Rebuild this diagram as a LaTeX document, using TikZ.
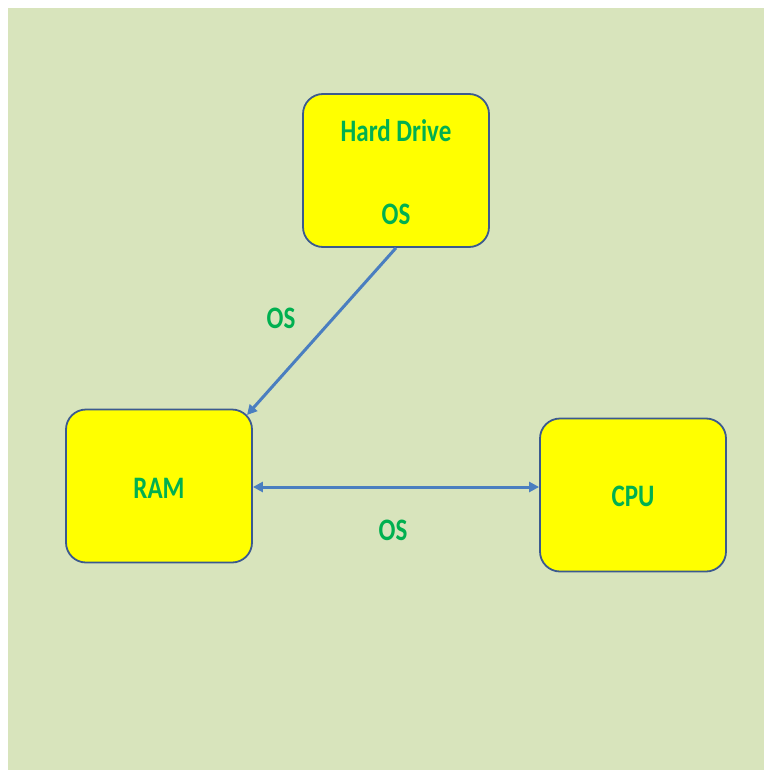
\documentclass[tikz,border=0pt]{standalone}
\usepackage{fontspec}
\setmainfont{Carlito}
\usetikzlibrary{arrows.meta}
\definecolor{bg}{HTML}{D8E4BC}
\definecolor{boxfill}{HTML}{FFFF00}
\definecolor{boxline}{HTML}{3B5A8F}
\definecolor{arrowc}{HTML}{4A7EC0}
\definecolor{txt}{HTML}{00B050}
\tikzset{
  unit/.style={draw=boxline, fill=boxfill, line width=1.8pt, rounded corners=20pt,
    minimum width=186pt, minimum height=153pt, inner sep=0pt},
  lbl/.style={text=txt, font=\fontsize{25}{30}\selectfont\bfseries, inner sep=0pt},
  conn/.style={draw=arrowc, line width=3pt, -{Triangle[length=10pt,width=10pt]}},
}
\begin{document}
\begin{tikzpicture}[x=1pt,y=-1pt]
\useasboundingbox (0,0) rectangle (764,770);
\fill[white] (0,0) rectangle (764,770);
\fill[bg] (8,8) rectangle (764,770);
\node[unit] (hd) at (396,170.5) {};
\node[unit] (ram) at (159,486) {};
\node[unit] (cpu) at (633,495) {};
\node[lbl] (hdt) at (396,131) {\scalebox{1}[1.25]{Hard Drive}};
\node[lbl] (hdos) at (396,214) {\scalebox{1}[1.25]{OS}};
\node[lbl] (ramt) at (159,488) {\scalebox{1}[1.25]{RAM}};
\node[lbl] (cput) at (633,496) {\scalebox{1}[1.25]{CPU}};
\coordinate (ramc) at (247,415);
\draw[conn] (hd.south) -- (ramc);
\draw[conn, {Triangle[length=10pt,width=10pt]}-{Triangle[length=10pt,width=10pt]}] (ram.east |- 0,487) -- (cpu.west |- 0,487);
\node[lbl] (os1) at (281,318) {\scalebox{1}[1.25]{OS}};
\node[lbl] (os2) at (393,530) {\scalebox{1}[1.25]{OS}};
\end{tikzpicture}
\end{document}
